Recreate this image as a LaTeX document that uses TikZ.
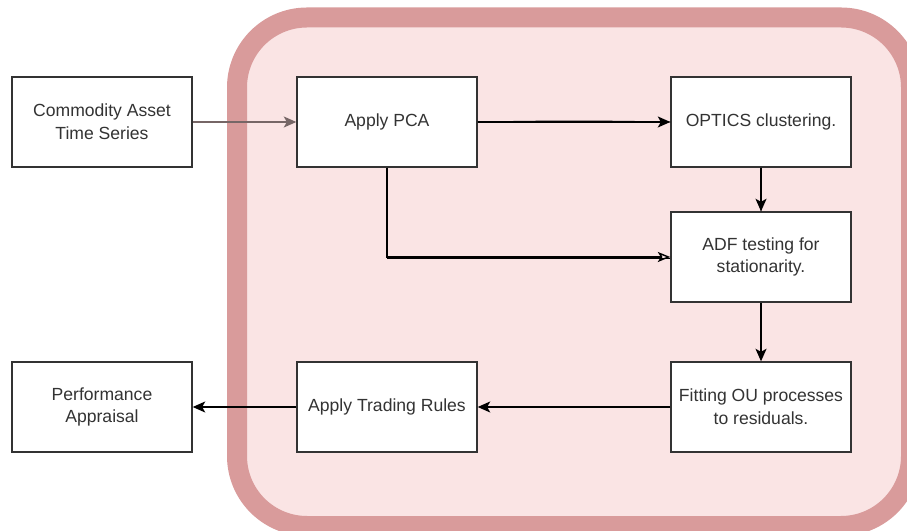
\documentclass[tikz,border=0pt]{standalone}
\usepackage{fontspec}
\setmainfont{Liberation Sans}
\usetikzlibrary{arrows.meta}
\definecolor{boxpink}{RGB}{250,228,228}
\definecolor{rimpink}{RGB}{217,155,155}
\definecolor{feedgray}{RGB}{118,102,102}

\begin{document}
\begin{tikzpicture}[x=1cm,y=1cm,font=\fontsize{10}{13}\selectfont,
  stepbox/.style={draw=black!80,line width=.8pt,fill=white,text=black!80,
    minimum width=3.6cm,minimum height=1.8cm,align=center,inner sep=0pt},
  flow/.style={line width=.8pt,-{Stealth[length=.25cm,width=.22cm,inset=.06cm]}},
  sketchy/.style={line width=.8pt,-{Stealth[open,length=.25cm,width=.2cm,inset=.06cm]}}]
\path[use as bounding box] (0,0) rectangle (18.14,10.6);
\draw[draw=rimpink,fill=boxpink,line width=.4cm,rounded corners=1.4cm] (4.74,.08) rectangle (18.22,10.25);
\node[stepbox] (series) at (2.04,8.16) {Commodity Asset\\Time Series};
\node[stepbox] (pca) at (7.74,8.16) {Apply PCA};
\node[stepbox] (optics) at (15.22,8.16) {OPTICS clustering.};
\node[stepbox] (adf) at (15.22,5.46) {ADF testing for\\stationarity.};
\node[stepbox] (ou) at (15.22,2.46) {Fitting OU processes\\to residuals.};
\node[stepbox] (rules) at (7.74,2.46) {Apply Trading Rules};
\node[stepbox] (perf) at (2.04,2.46) {Performance\\Appraisal};
\draw[flow,draw=feedgray] (series) -- (pca);
\draw[flow] (pca) -- (optics);
\draw[line width=.5pt] (pca.east) to[bend left=1] (optics.west);
\draw[flow] (optics) -- (adf);
\draw[line width=.5pt] (optics.south) to[bend left=2] (adf.north);
\draw[sketchy] (pca.south) |- (adf.west);
\draw[line width=.4pt] (pca.south) |- ([yshift=-.8pt]adf.west);
\draw[flow] (adf) -- (ou);
\draw[flow] (ou) -- (rules);
\draw[flow] (rules) -- (perf);
\end{tikzpicture}
\end{document}
